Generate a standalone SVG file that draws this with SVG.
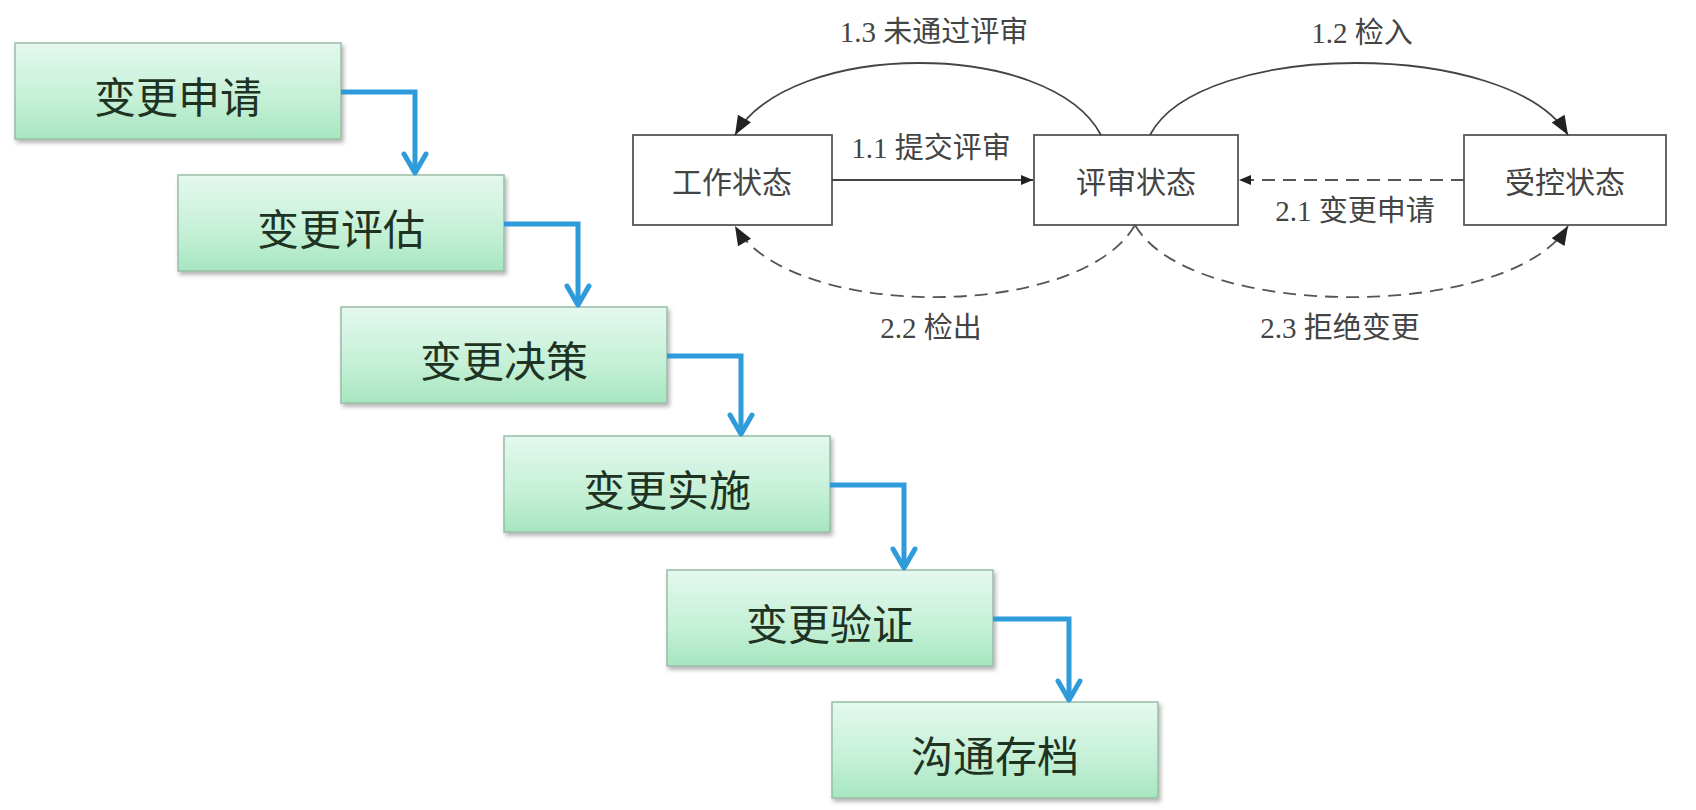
<svg xmlns="http://www.w3.org/2000/svg" width="1696" height="810" viewBox="0 0 1696 810">
<style>
.step{fill:url(#g);stroke:#98bda6;stroke-width:1.5;filter:url(#sh)}
.stxt{font-family:"Noto Sans CJK SC","Noto Sans",sans-serif;font-size:42px;font-weight:400;fill:#1f3322;text-anchor:middle;dominant-baseline:central}
.flow{fill:none;stroke:#2e9bdb;stroke-width:5;marker-end:url(#chev)}
.st{fill:#fff;stroke:#555;stroke-width:1.8}
.sttxt{font-family:"Noto Sans CJK SC","Noto Sans",sans-serif;font-size:30px;fill:#444;text-anchor:middle;dominant-baseline:central}
.lbl{font-family:"Liberation Serif","Noto Sans CJK SC",serif;font-size:29px;fill:#444;text-anchor:middle;dominant-baseline:central}
.ln{fill:none;stroke:#444;stroke-width:1.8}
.dash{stroke:#555;stroke-dasharray:13 8}
</style>
<defs>
<linearGradient id="g" x1="0" y1="0" x2="0" y2="1">
<stop offset="0" stop-color="#e4f8ef"/>
<stop offset="0.6" stop-color="#c4f0d6"/>
<stop offset="1" stop-color="#a6e6bf"/>
</linearGradient>
<filter id="sh" x="-5%" y="-10%" width="112%" height="130%">
<feDropShadow dx="2" dy="3" stdDeviation="2" flood-color="#000" flood-opacity="0.3"/>
</filter>
<marker id="chev" viewBox="-24 -14 28 28" markerWidth="28" markerHeight="28" refX="0" refY="0" markerUnits="userSpaceOnUse" orient="auto">
<path d="M-19,-11 L0,0 L-19,11" fill="none" stroke="#2e9bdb" stroke-width="5" stroke-linejoin="round" stroke-linecap="round"/>
</marker>
<marker id="big" viewBox="-20 -9 22 18" markerWidth="22" markerHeight="18" refX="0" refY="0" markerUnits="userSpaceOnUse" orient="auto">
<path d="M-19,-7.5 L0,0 L-19,7.5 Z" fill="#222"/>
</marker>
<marker id="small" viewBox="-13 -6 14 12" markerWidth="14" markerHeight="12" refX="0" refY="0" markerUnits="userSpaceOnUse" orient="auto">
<path d="M-12,-5 L0,0 L-12,5 Z" fill="#222"/>
</marker>
</defs>
<rect width="1696" height="810" fill="#fff"/>

<g id="step1"><rect class="step" x="15" y="43" width="326" height="96"/><text class="stxt" x="178" y="94">变更申请</text></g>
<g id="step2"><rect class="step" x="178" y="175" width="326" height="96"/><text class="stxt" x="341" y="226">变更评估</text></g>
<g id="step3"><rect class="step" x="341" y="307" width="326" height="96"/><text class="stxt" x="504" y="358">变更决策</text></g>
<g id="step4"><rect class="step" x="504" y="436" width="326" height="96"/><text class="stxt" x="667" y="487">变更实施</text></g>
<g id="step5"><rect class="step" x="667" y="570" width="326" height="96"/><text class="stxt" x="830" y="621">变更验证</text></g>
<g id="step6"><rect class="step" x="832" y="702" width="326" height="96"/><text class="stxt" x="995" y="753">沟通存档</text></g>

<g id="s-work"><rect class="st" x="633" y="135" width="199" height="90"/><text class="sttxt" x="732" y="180">工作状态</text></g>
<g id="s-review"><rect class="st" x="1034" y="135" width="204" height="90"/><text class="sttxt" x="1136" y="180">评审状态</text></g>
<g id="s-ctrl"><rect class="st" x="1464" y="135" width="202" height="90"/><text class="sttxt" x="1565" y="180">受控状态</text></g>

<g id="connectors">
<path class="flow" d="M341,92 H415 V173"/>
<path class="flow" d="M504,224 H578 V305"/>
<path class="flow" d="M667,356 H741 V434"/>
<path class="flow" d="M830,485 H904 V568"/>
<path class="flow" d="M993,619 H1069 V700"/>

<path class="ln" d="M832,180 H1033" marker-end="url(#small)"/>
<path class="ln dash" d="M1464,180 H1239" marker-end="url(#small)"/>
<path class="ln" d="M1101,135 C1050,39 790,39 735,135" marker-end="url(#big)"/>
<path class="ln" d="M1150,135 C1200,39 1510,39 1568,135" marker-end="url(#big)"/>
<path class="ln dash" d="M1135,225 C1080,321 790,321 735,226" marker-end="url(#big)"/>
<path class="ln dash" d="M1135,225 C1190,321 1510,321 1568,226" marker-end="url(#big)"/>

<text class="lbl" x="934" y="32">1.3 未通过评审</text>
<text class="lbl" x="1362" y="33">1.2 检入</text>
<text class="lbl" x="931" y="148">1.1 提交评审</text>
<text class="lbl" x="1355" y="211">2.1 变更申请</text>
<text class="lbl" x="931" y="328">2.2 检出</text>
<text class="lbl" x="1340" y="328">2.3 拒绝变更</text>
</g>
</svg>
